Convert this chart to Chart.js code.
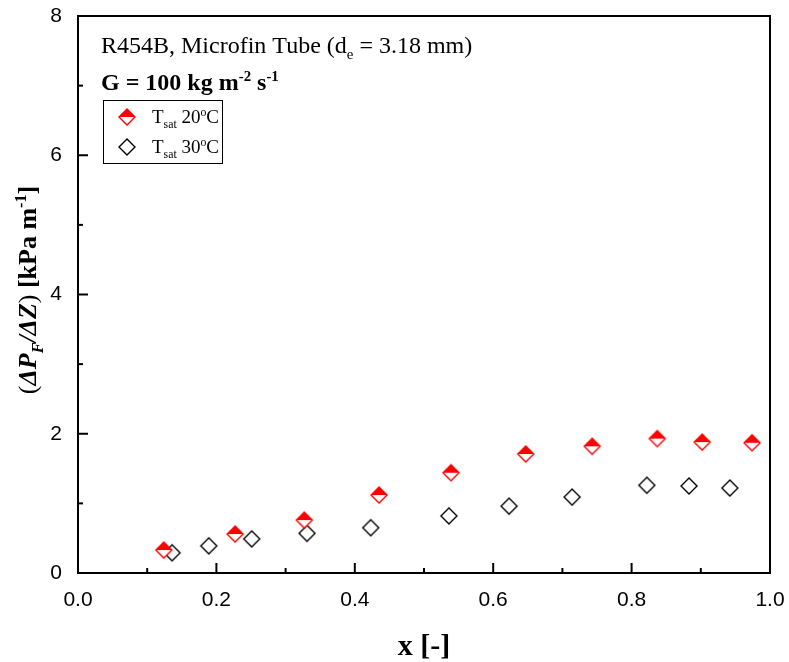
<!DOCTYPE html>
<html>
<head>
<meta charset="utf-8">
<script src="https://cdn.jsdelivr.net/npm/chart.js@4.4.0/dist/chart.umd.min.js"></script>
<style>
  html, body { margin: 0; padding: 0; background: #fff; }
  #wrap { width: 789px; height: 662px; }
</style>
</head>
<body>
<div id="wrap"><canvas id="chart" width="789" height="662"></canvas></div>
<script>
// vapour quality and frictional pressure gradient
const x20 = [0.124, 0.227, 0.327, 0.435, 0.539, 0.647, 0.743, 0.837, 0.902, 0.974];
const y20 = [0.33, 0.56, 0.76, 1.12, 1.44, 1.71, 1.82, 1.93, 1.88, 1.87];
const x30 = [0.136, 0.189, 0.251, 0.331, 0.423, 0.536, 0.623, 0.714, 0.822, 0.883, 0.942];
const y30 = [0.29, 0.39, 0.49, 0.57, 0.65, 0.82, 0.96, 1.09, 1.26, 1.25, 1.22];
const seriesNames = ["20", "30"];

const SERIF = '"Liberation Serif", "Times New Roman", serif';
const SANS = '"Liberation Sans", Arial, sans-serif';
const R = 8;

function diamondPath(c, cx, cy, r) {
  c.beginPath();
  c.moveTo(cx - r, cy);
  c.lineTo(cx, cy - r);
  c.lineTo(cx + r, cy);
  c.lineTo(cx, cy + r);
  c.closePath();
}

function makeMarker(halfFill, color) {
  const cv = document.createElement("canvas");
  const s = R * 2 + 4;
  cv.width = s;
  cv.height = s;
  const c = cv.getContext("2d");
  const m = s / 2;
  diamondPath(c, m, m, R);
  c.fillStyle = "#fff";
  c.fill();
  if (halfFill) {
    c.save();
    c.beginPath();
    c.rect(0, 0, s, m);
    c.clip();
    diamondPath(c, m, m, R);
    c.fillStyle = color;
    c.fill();
    c.restore();
  }
  diamondPath(c, m, m, R);
  c.lineWidth = 1.4;
  c.strokeStyle = color;
  c.stroke();
  return cv;
}

const redMark = makeMarker(true, "#ff0000");
const blackMark = makeMarker(false, "#000000");

// draws pieces of text: [text, {sub, sup, bold, italic}]
function drawRich(c, x, y, pieces, base) {
  let cx = x;
  pieces.forEach(([t, o]) => {
    o = o || {};
    let size = base.size;
    let dy = 0;
    if (o.sub) { size = base.size * 0.62; dy = base.size * 0.25; }
    if (o.sup) { size = base.size * 0.62; dy = -base.size * 0.38; }
    const bold = o.bold !== undefined ? o.bold : base.bold;
    const italic = o.italic !== undefined ? o.italic : base.italic;
    c.font = (italic ? "italic " : "") + (bold ? "bold " : "") + size + "px " + SERIF;
    c.fillText(t, cx, y + dy);
    cx += c.measureText(t).width;
  });
  return cx - x;
}

function richWidth(c, pieces, base) {
  c.save();
  c.globalAlpha = 0;
  const w = drawRich(c, 0, 0, pieces, base);
  c.restore();
  return w;
}

const decor = {
  id: "decor",
  afterDraw(chart) {
    const c = chart.ctx;
    const a = chart.chartArea;
    const xs = chart.scales.x;
    const ys = chart.scales.y;
    c.save();
    c.strokeStyle = "#000";
    c.fillStyle = "#000";

    // inward ticks
    c.lineWidth = 2;
    const xt = xs.ticks.map((t) => t.value);
    xt.forEach((v, i) => {
      const px = xs.getPixelForValue(v);
      c.beginPath(); c.moveTo(px, a.bottom); c.lineTo(px, a.bottom - 10); c.stroke();
      if (i < xt.length - 1) {
        const pm = xs.getPixelForValue((v + xt[i + 1]) / 2);
        c.beginPath(); c.moveTo(pm, a.bottom); c.lineTo(pm, a.bottom - 5); c.stroke();
      }
    });
    const yt = ys.ticks.map((t) => t.value);
    yt.forEach((v, i) => {
      const py = ys.getPixelForValue(v);
      c.beginPath(); c.moveTo(a.left, py); c.lineTo(a.left + 10, py); c.stroke();
      if (i < yt.length - 1) {
        const pm = ys.getPixelForValue((v + yt[i + 1]) / 2);
        c.beginPath(); c.moveTo(a.left, pm); c.lineTo(a.left + 5, pm); c.stroke();
      }
    });

    // frame
    c.lineWidth = 2;
    c.strokeRect(a.left, a.top, a.right - a.left, a.bottom - a.top);

    // annotations
    c.textBaseline = "alphabetic";
    c.textAlign = "left";
    drawRich(c, 101, 53, [["R454B, Microfin Tube (d"], ["e", { sub: true }], [" = 3.18 mm)"]], { size: 24 });
    drawRich(c, 101, 90, [["G = 100 kg m"], ["-2", { sup: true }], [" s"], ["-1", { sup: true }]], { size: 24, bold: true });

    // legend box
    c.lineWidth = 1;
    c.strokeRect(103.5, 100.5, 119, 63);
    const marks = [redMark, blackMark];
    seriesNames.forEach((n, i) => {
      const ly = 117 + i * 30;
      c.drawImage(marks[i], 127 - marks[i].width / 2, ly - marks[i].height / 2);
      drawRich(c, 152, ly + 6, [["T"], ["sat", { sub: true }], [" " + n], ["o", { sup: true }], ["C"]], { size: 19 });
    });

    // x title
    const xPieces = [["x [-]"]];
    const xb = { size: 30, bold: true };
    const xw = richWidth(c, xPieces, xb);
    drawRich(c, (a.left + a.right) / 2 - xw / 2, 655, xPieces, xb);

    // y title
    const yPieces = [
      ["(", { bold: false }],
      ["\u0394P", { italic: true }],
      ["F", { sub: true, italic: true }],
      ["/\u0394Z", { italic: true }],
      [")", { bold: false }],
      [" [kPa m"],
      ["-1", { sup: true }],
      ["]"]
    ];
    const yb = { size: 26, bold: true };
    const yw = richWidth(c, yPieces, yb);
    c.translate(36, 290);
    c.rotate(-Math.PI / 2);
    drawRich(c, -yw / 2, 0, yPieces, yb);
    c.restore();
  }
};

new Chart(document.getElementById("chart"), {
  type: "scatter",
  data: {
    datasets: [
      {
        label: "Tsat 20",
        data: x20.map((x, i) => ({ x: x, y: y20[i] })),
        pointStyle: redMark,
      },
      {
        label: "Tsat 30",
        data: x30.map((x, i) => ({ x: x, y: y30[i] })),
        pointStyle: blackMark,
      },
    ],
  },
  options: {
    responsive: false,
    animation: false,
    events: [],
    layout: { padding: { top: 16, right: 19, left: 0, bottom: 0 } },
    plugins: { legend: { display: false }, tooltip: { enabled: false } },
    scales: {
      x: {
        type: "linear",
        min: 0,
        max: 1,
        grid: { display: false },
        border: { display: false },
        ticks: {
          stepSize: 0.2,
          padding: 7,
          color: "#000",
          font: { family: SANS, size: 21 },
          callback: (v) => v.toFixed(1),
        },
        afterFit: (s) => { s.height = 89; s.paddingLeft = 0; s.paddingRight = 0; },
      },
      y: {
        min: 0,
        max: 8,
        grid: { display: false },
        border: { display: false },
        ticks: {
          stepSize: 2,
          padding: 8,
          color: "#000",
          font: { family: SANS, size: 21 },
        },
        afterFit: (s) => { s.width = 78; s.paddingTop = 0; s.paddingBottom = 0; },
      },
    },
  },
  plugins: [decor],
});
</script>
</body>
</html>
